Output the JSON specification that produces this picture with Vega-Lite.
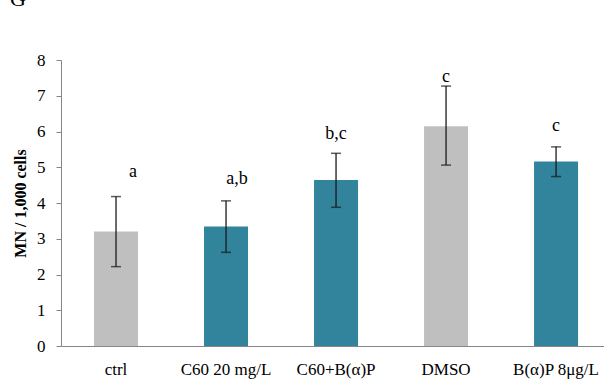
{
  "$schema": "https://vega.github.io/schema/vega-lite/v6.json",
  "width": 543,
  "height": 286,
  "autosize": {"type": "none"},
  "padding": {"left": 61, "top": 60, "right": 0, "bottom": 37},
  "background": "white",
  "title": {"text": "G", "anchor": "start", "frame": "group", "dx": -51, "offset": 40, "fontSize": 22, "font": "Liberation Serif", "fontWeight": "normal", "color": "#000000"},
  "config": {
    "view": {"stroke": null},
    "font": "Liberation Serif",
    "axisY": {"titleFont": "Liberation Serif", "titleFontSize": 16, "titleFontWeight": "bold", "titleColor": "#000000", "titleX": -41, "titleY": 143, "titleBaseline": "middle", "labelFontSize": 17, "labelFont": "Liberation Serif", "labelColor": "#000000", "labelPadding": 11, "tickSize": 5, "tickColor": "#868686", "domainColor": "#868686", "grid": false, "labelOverlap": false}
  },
  "data": {
    "values": [
      {"group": "ctrl", "mean": 3.20, "lo": 2.22, "hi": 4.18, "sig": "a", "sigY": 4.87, "kind": "control"},
      {"group": "C60 20 mg/L", "mean": 3.34, "lo": 2.62, "hi": 4.06, "sig": "a,b", "sigY": 4.67, "kind": "treated"},
      {"group": "C60+B(α)P", "mean": 4.64, "lo": 3.88, "hi": 5.39, "sig": "b,c", "sigY": 5.93, "kind": "treated"},
      {"group": "DMSO", "mean": 6.15, "lo": 5.06, "hi": 7.27, "sig": "c", "sigY": 7.52, "kind": "control"},
      {"group": "B(α)P 8μg/L", "mean": 5.16, "lo": 4.74, "hi": 5.57, "sig": "c", "sigY": 6.15, "kind": "treated"}
    ]
  },
  "encoding": {
    "x": {
      "field": "group", "type": "nominal", "sort": null,
      "scale": {"paddingInner": 0.6, "paddingOuter": 0.268, "align": 0.56},
      "axis": {"title": null, "labelAngle": 0, "ticks": false, "tickSize": 0, "labelPadding": 15, "labelFontSize": 17, "labelFont": "Liberation Serif", "labelColor": "#000000", "domainColor": "#868686", "domainWidth": 1, "grid": false}
    }
  },
  "layer": [
    {
      "mark": {"type": "bar"},
      "encoding": {
        "y": {
          "field": "mean", "type": "quantitative",
          "scale": {"domain": [0, 8], "nice": false},
          "axis": {"title": "MN / 1,000 cells", "values": [0, 1, 2, 3, 4, 5, 6, 7, 8]}
        },
        "color": {"field": "kind", "type": "nominal", "scale": {"domain": ["control", "treated"], "range": ["#BFBFBF", "#31849B"]}, "legend": null}
      }
    },
    {
      "mark": {"type": "rule", "color": "#1a1a1a", "strokeWidth": 1.3},
      "encoding": {
        "y": {"field": "lo", "type": "quantitative", "axis": {"title": "MN / 1,000 cells", "values": [0, 1, 2, 3, 4, 5, 6, 7, 8]}},
        "y2": {"field": "hi"}
      }
    },
    {
      "mark": {"type": "tick", "color": "#1a1a1a", "thickness": 1.5, "size": 10},
      "encoding": {"y": {"field": "lo", "type": "quantitative", "axis": {"title": "MN / 1,000 cells", "values": [0, 1, 2, 3, 4, 5, 6, 7, 8]}}}
    },
    {
      "mark": {"type": "tick", "color": "#1a1a1a", "thickness": 1.5, "size": 10},
      "encoding": {"y": {"field": "hi", "type": "quantitative", "axis": {"title": "MN / 1,000 cells", "values": [0, 1, 2, 3, 4, 5, 6, 7, 8]}}}
    },
    {
      "transform": [{"filter": "datum.group === 'ctrl'"}],
      "mark": {"type": "text", "fontSize": 18, "font": "Liberation Serif", "color": "#000000", "baseline": "middle", "dx": 17},
      "encoding": {"y": {"field": "sigY", "type": "quantitative", "axis": {"title": "MN / 1,000 cells", "values": [0, 1, 2, 3, 4, 5, 6, 7, 8]}}, "text": {"field": "sig"}}
    },
    {
      "transform": [{"filter": "datum.group === 'C60 20 mg/L'"}],
      "mark": {"type": "text", "fontSize": 18, "font": "Liberation Serif", "color": "#000000", "baseline": "middle", "dx": 11},
      "encoding": {"y": {"field": "sigY", "type": "quantitative", "axis": {"title": "MN / 1,000 cells", "values": [0, 1, 2, 3, 4, 5, 6, 7, 8]}}, "text": {"field": "sig"}}
    },
    {
      "transform": [{"filter": "datum.group !== 'ctrl' && datum.group !== 'C60 20 mg/L'"}],
      "mark": {"type": "text", "fontSize": 18, "font": "Liberation Serif", "color": "#000000", "baseline": "middle"},
      "encoding": {"y": {"field": "sigY", "type": "quantitative", "axis": {"title": "MN / 1,000 cells", "values": [0, 1, 2, 3, 4, 5, 6, 7, 8]}}, "text": {"field": "sig"}}
    }
  ]
}
